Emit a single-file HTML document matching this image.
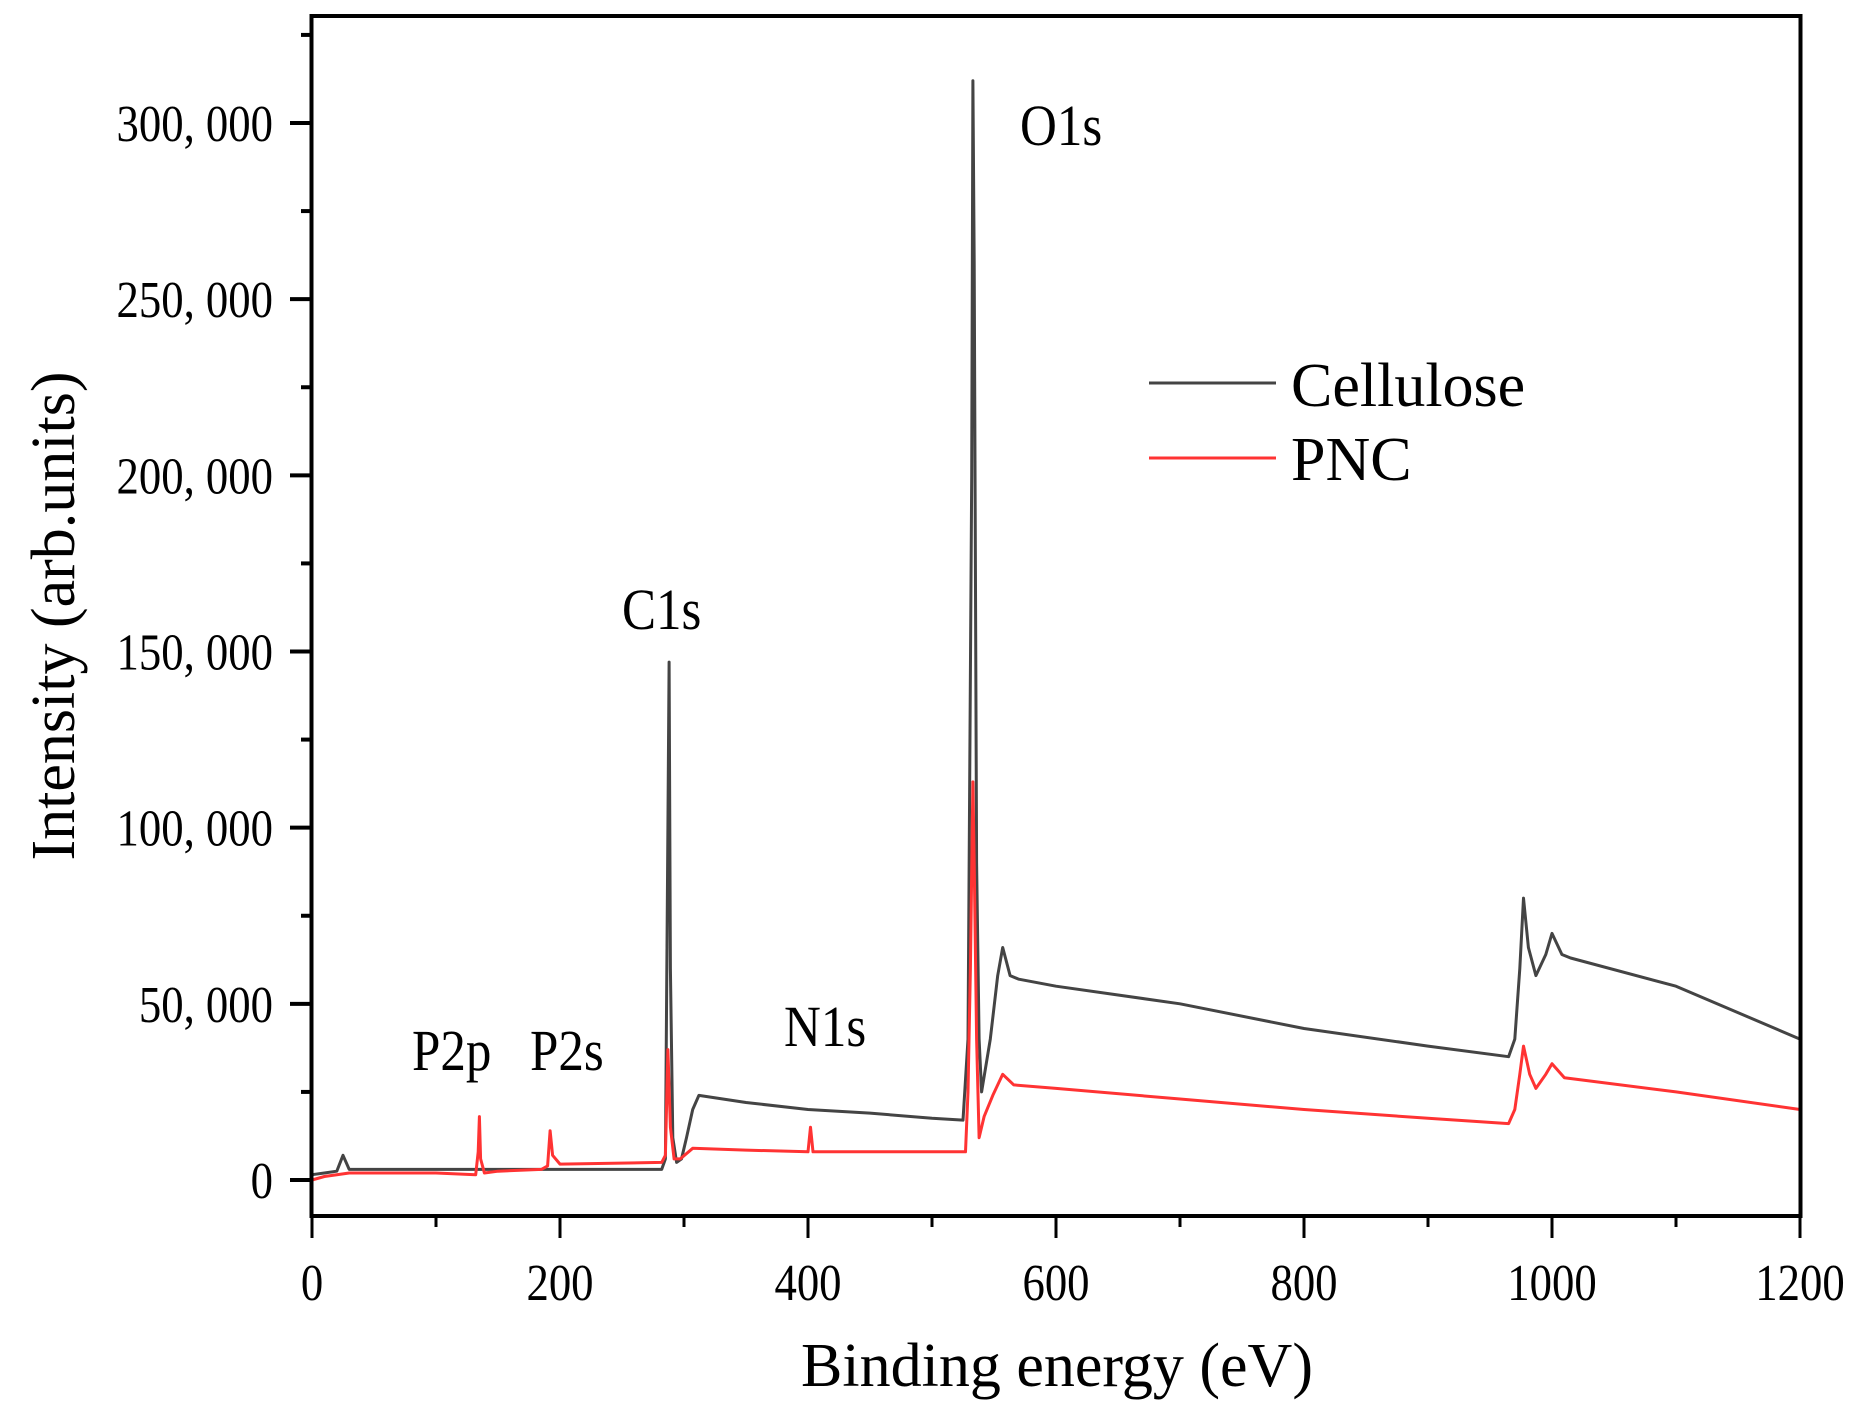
<!DOCTYPE html>
<html><head><meta charset="utf-8"><style>
html,body{margin:0;padding:0;background:#fff;}
svg{display:block;font-family:"Liberation Serif","Noto Serif CJK SC",serif;}
</style></head><body>
<svg id="chart" width="1868" height="1414" viewBox="0 0 1868 1414">
<g id="plot"></g>
</svg>
<script>
const xTicks = [0,200,400,600,800,1000,1200];
const yTicks = [0,50000,100000,150000,200000,250000,300000];
const yTickLabels = ["0","50, 000","100, 000","150, 000","200, 000","250, 000","300, 000"];
const celluloseE = [0,10,20,25,30,40,100,200,282,285,287,288,289,291,294,298,302,307,312,350,400,450,500,525,529,532,533,534,536,538,540,547,553,557,563,570,600,700,800,900,965,970,974,977,981,987,995,1000,1008,1015,1100,1200];
const celluloseI = [1500,2000,2500,7000,3000,3000,3000,3000,3000,6000,100000,147000,60000,12000,5000,6000,12000,20000,24000,22000,20000,19000,17500,17000,40000,200000,312000,260000,90000,40000,25000,40000,58000,66000,58000,57000,55000,50000,43000,38000,35000,40000,60000,80000,66000,58000,64000,70000,64000,63000,55000,40000];
const pncE = [0,10,30,100,132,134,135,136,139,150,185,190,192,194,200,282,285,287,289,292,297,307,350,400,402,404,410,500,527,529,531,533,534,536,538,542,549,557,566,600,700,800,900,965,970,974,977,982,987,995,1000,1010,1100,1200];
const pncI = [0,1000,2000,2000,1500,8000,18000,6000,2000,2500,3000,4000,14000,7000,4500,5000,7000,37000,15000,6000,6000,9000,8500,8000,15000,8000,8000,8000,8000,25000,60000,113000,90000,40000,12000,18000,24000,30000,27000,26000,23000,20000,17500,16000,20000,30000,38000,30000,26000,30000,33000,29000,25000,20000];
const annotations = [["O1s",1020,145],["C1s",622,629],["N1s",784,1046],["P2p",412,1070],["P2s",530,1070]];

const NS="http://www.w3.org/2000/svg";
const svg=document.getElementById('chart');
const X0=312,X1=1800,YB=1180,YT=123;
function xs(v){return X0+(v-0)/(1200-0)*(X1-X0);}
function ys(v){return YB-(v/300000)*(YB-YT);}
function mk(tag,attrs,parent){const e=document.createElementNS(NS,tag);for(const k in attrs)e.setAttribute(k,attrs[k]);(parent||svg).appendChild(e);return e;}

function series(E,I,color,name){
  let d=E.map((e,i)=>(i?'L':'M')+xs(e).toFixed(1)+' '+ys(I[i]).toFixed(1)).join(' ');
  const p=mk('path',{d:d,fill:'none',stroke:color,'stroke-width':3,'stroke-linejoin':'round'});
  
  
}
series(celluloseE,celluloseI,'#444444','cellulose-line');
series(pncE,pncI,'#ff3333','pnc-line');

const fr=mk('rect',{x:311.5,y:16,width:1489,height:1200,fill:'none',stroke:'#000','stroke-width':4});



function ctext(str,x,y,size,anchor,sx){
  const t=mk('text',{x:0,y:0,'text-anchor':anchor,'font-size':size,transform:'translate('+x+','+y+') scale('+sx+',1)'});
  t.textContent=str;return t;
}
xTicks.forEach(v=>{
  const x=xs(v);
  mk('line',{x1:x,y1:1216,x2:x,y2:1238,stroke:'#000','stroke-width':3});
  const t=ctext(String(v),x,1300,52,'middle',0.86);
  
  
});
for(let v=100;v<1200;v+=200){const x=xs(v);mk('line',{x1:x,y1:1216,x2:x,y2:1227,stroke:'#000','stroke-width':3});}
yTicks.forEach((v,i)=>{
  const y=ys(v);
  mk('line',{x1:290,y1:y,x2:312,y2:y,stroke:'#000','stroke-width':4});
  const t=ctext(yTickLabels[i],273,y+18,52,'end',0.86);
  
  
});
for(let v=25000;v<=325000;v+=50000){const y=ys(v);mk('line',{x1:301,y1:y,x2:312,y2:y,stroke:'#000','stroke-width':4});}

annotations.forEach(a=>{
  const t=ctext(a[0],a[1],a[2],58,'start',0.88);
  
  
});

const xt=mk('text',{x:1057,y:1386,'text-anchor':'middle','font-size':62});
xt.textContent='Binding energy (eV)';


const yt=mk('text',{x:0,y:0,'text-anchor':'middle','font-size':62,transform:'translate(74,616) rotate(-90)'});
yt.textContent='Intensity (arb.units)';



const lg=mk('g',{});


[['Cellulose','#444444',383,406],['PNC','#ff3333',458,480]].forEach(l=>{
  const g=mk('g',{},lg);
  
  
  mk('line',{x1:1149,y1:l[2],x2:1276,y2:l[2],stroke:l[1],'stroke-width':3},g);
  const t=mk('text',{x:1291,y:l[3],'font-size':62},g);
  t.textContent=l[0];
});
</script>
</body></html>
